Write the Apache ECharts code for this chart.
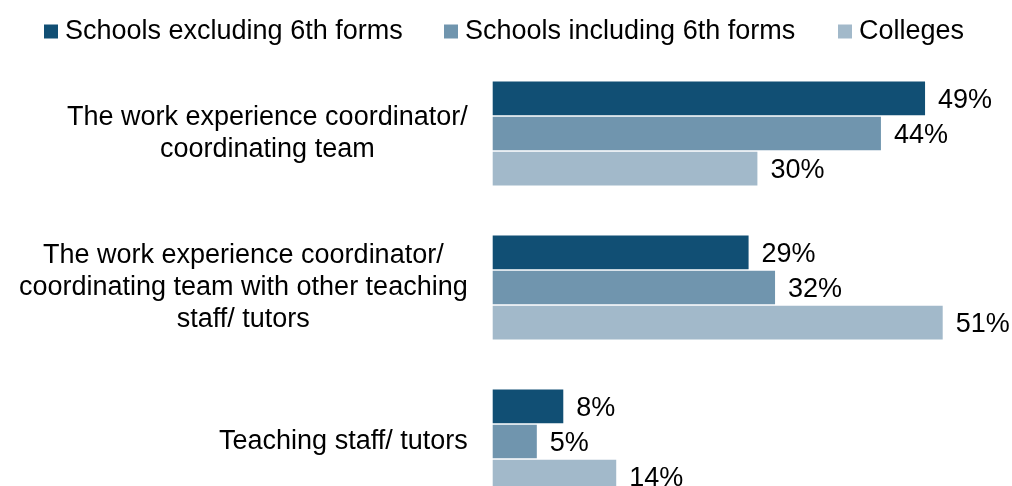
<!DOCTYPE html>
<html>
<head>
<meta charset="utf-8">
<script src="https://cdn.jsdelivr.net/npm/echarts@6/dist/echarts.min.js"></script>
<style>
html,body{margin:0;padding:0;background:#fff;}
#chart{width:1012px;height:486px;}
</style>
</head>
<body>
<div id="chart"></div>
<script>
const categories = [
  "The work experience coordinator/\ncoordinating team",
  "The work experience coordinator/\ncoordinating team with other teaching\nstaff/ tutors",
  "Teaching staff/ tutors"
];
const seriesNames = ["Schools excluding 6th forms", "Schools including 6th forms", "Colleges"];
const schoolsExcl = [49, 29, 8];
const schoolsIncl = [44, 32, 5];
const colleges = [30, 51, 14];
const colors = ["#114f74", "#7095ae", "#a2b9ca"];
const legendLeft = [44, 444, 838];

const FONT = "'Liberation Sans', Arial, sans-serif";
const FS = 27;

const chart = echarts.init(document.getElementById('chart'), null, {renderer: 'canvas'});

const seriesData = [schoolsExcl, schoolsIncl, colleges];

const option = {
  animation: false,
  backgroundColor: '#ffffff',
  textStyle: {fontFamily: FONT},
  legend: seriesNames.map((n, i) => ({
    data: [n],
    left: legendLeft[i],
    top: 18,
    padding: 0,
    itemWidth: 14,
    itemHeight: 14,
    icon: 'rect',
    textStyle: {fontFamily: FONT, fontSize: FS, color: '#000', padding: [0, 0, 0, 2]}
  })),
  grid: {
    left: 492.7,
    right: 69.3,
    top: 56.5,
    bottom: -32.5,
    containLabel: false,
    outerBoundsMode: 'none'
  },
  xAxis: {
    type: 'value',
    min: 0,
    max: 51,
    show: false
  },
  yAxis: {
    type: 'category',
    inverse: true,
    data: categories,
    axisLine: {show: false},
    axisTick: {show: false},
    splitLine: {show: false},
    axisLabel: {
      margin: 25,
      color: '#000',
      fontFamily: FONT,
      fontSize: FS,
      lineHeight: 32,
      formatter: v => v.split('\n').map(l => '{c|' + l + '}').join('\n'),
      rich: {
        c: {align: 'center', fontFamily: FONT, fontSize: FS, lineHeight: 32, color: '#000'}
      }
    }
  },
  series: seriesNames.map((n, i) => ({
    name: n,
    type: 'bar',
    data: seriesData[i],
    barWidth: 33.7,
    barGap: '4.5%',
    itemStyle: {color: colors[i]},
    label: {
      show: true,
      position: 'right',
      distance: 13,
      offset: [0, 2],
      formatter: '{c}%',
      color: '#000',
      fontFamily: FONT,
      fontSize: FS
    }
  }))
};
chart.setOption(option);
</script>
</body>
</html>
